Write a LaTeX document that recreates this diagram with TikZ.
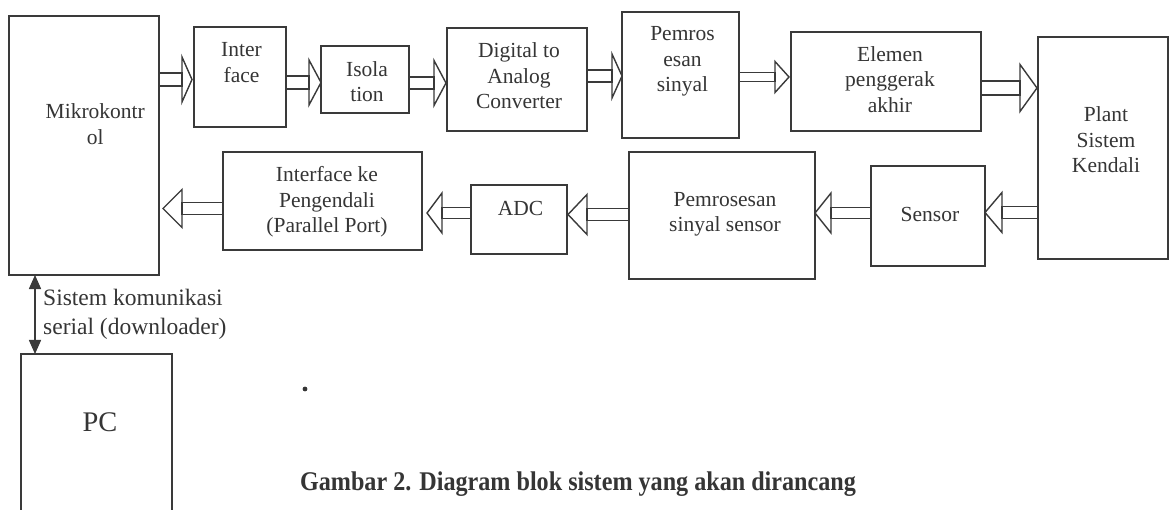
\documentclass[tikz,border=0pt]{standalone}
\usepackage{fontspec}
\setmainfont{Liberation Serif}
\usetikzlibrary{calc,arrows.meta}

\definecolor{ink}{HTML}{3A3A3A}
\definecolor{txtc}{HTML}{353535}
\newcommand\boxfont{\fontsize{21.5bp}{25.5bp}\selectfont}

% hollow block arrow pointing right: source, target, y, shaft half, head half, head length, gap before target
\newcommand\rflow[7]{%
  \path (#1.east |- 0,#3) coordinate (fs) (#2.west |- 0,#3) coordinate (ft0);
  \coordinate (ft) at ($(ft0)+(-#7,0)$);
  \coordinate (fb) at ($(ft)+(-#6,0)$);
  \draw[flow] ($(fs)+(0,-#4)$) rectangle ($(fb)+(0,#4)$);
  \draw[flow] ($(fb)+(0,-#5)$) -- (ft) -- ($(fb)+(0,#5)$) -- cycle;
}
% hollow block arrow pointing left
\newcommand\lflow[7]{%
  \path (#1.west |- 0,#3) coordinate (fs) (#2.east |- 0,#3) coordinate (ft0);
  \coordinate (ft) at ($(ft0)+(#7,0)$);
  \coordinate (fb) at ($(ft)+(#6,0)$);
  \draw[flow] ($(fs)+(0,-#4)$) rectangle ($(fb)+(0,#4)$);
  \draw[flow] ($(fb)+(0,-#5)$) -- (ft) -- ($(fb)+(0,#5)$) -- cycle;
}

\begin{document}
\begin{tikzpicture}[x=1bp,y=-1bp,
  box/.style={draw=ink, line width=1.4bp, inner sep=0, outer sep=0, anchor=north west},
  txt/.style={text=txtc, inner sep=0, align=center, anchor=north, font=\boxfont},
  flow/.style={draw=ink, line width=1.4bp, line join=miter}]

\useasboundingbox[fill=white] (0,0) rectangle (1170,510);
\clip (0,0) rectangle (1170,510);

% blocks
\node[box, minimum width=150bp, minimum height=259bp] (mk) at (9,16) {};
\node[box, minimum width=92bp, minimum height=100bp] (iface) at (194,27) {};
\node[box, minimum width=88bp, minimum height=67bp] (iso) at (321,46) {};
\node[box, minimum width=140bp, minimum height=103bp] (dac) at (447,28) {};
\node[box, minimum width=117bp, minimum height=126bp] (pem) at (622,12) {};
\node[box, minimum width=190bp, minimum height=99bp] (ele) at (791,32) {};
\node[box, minimum width=130bp, minimum height=222bp] (plant) at (1038,37) {};
\node[box, minimum width=114bp, minimum height=100bp] (sens) at (871,166) {};
\node[box, minimum width=186bp, minimum height=127bp] (pss) at (629,152) {};
\node[box, minimum width=96bp, minimum height=69bp] (adc) at (471,185) {};
\node[box, minimum width=199bp, minimum height=98bp] (ikp) at (223,152) {};
\node[box, minimum width=151bp, minimum height=180bp] (pc) at (21,354) {};

% block captions
\node[txt] (mkT) at (95.3,100.5) {\strut Mikrokontr\\ol};
\node[txt] (ifaceT) at (241.5,38.8) {\strut Inter\\face};
\node[txt] (isoT) at (367,58.2) {\strut Isola\\tion};
\node[txt] (dacT) at (519,39.5) {\strut Digital to\\Analog\\Converter};
\node[txt] (pemT) at (682.5,22.9) {\strut Pemros\\esan\\sinyal};
\node[txt] (eleT) at (890,43.2) {\strut Elemen\\penggerak\\akhir};
\node[txt] (plantT) at (1106,103.9) {\strut Plant\\Sistem\\Kendali};
\node[txt] (sensT) at (930,203.9) {\strut Sensor};
\node[txt] (pssT) at (725,188.2) {\strut Pemrosesan\\sinyal sensor};
\node[txt] (adcT) at (520.5,197.9) {\strut ADC};
\node[txt] (ikpT) at (327,163.9) {\strut Interface ke\\Pengendali\\(Parallel Port)};
\node[anchor=base, inner sep=0, text=txtc, font=\fontsize{28.4bp}{34bp}\selectfont] (pcT) at (100,431.7) {PC};

% forward path
\rflow{mk}{iface}{79.5}{6.5}{22.5}{10}{2}
\rflow{iface}{iso}{82.5}{6.5}{22.5}{12}{0}
\rflow{iso}{dac}{83}{6}{22.5}{12}{1}
\rflow{dac}{pem}{76}{6}{22}{10}{0}
\rflow{pem}{ele}{77}{4.5}{15.5}{14}{2}
\rflow{ele}{plant}{88}{7}{23.5}{17}{1}

% feedback path
\lflow{plant}{sens}{212.5}{6}{20}{17}{0}
\lflow{sens}{pss}{213}{5.5}{20}{16}{0}
\lflow{pss}{adc}{214.5}{6}{20}{19}{1}
\lflow{adc}{ikp}{213}{5.5}{20}{15}{5}
\lflow{ikp}{mk}{208.5}{6}{19}{19}{4}

% serial link to the PC
\draw[ink, line width=1.5bp, {Triangle[length=14bp,width=12bp]}-{Triangle[length=14bp,width=12bp]}]
  (mk.south -| 35,0) -- (pc.north -| 35,0);
\node[anchor=north west, inner sep=0, align=left, text=txtc,
      font=\fontsize{23.5bp}{29bp}\selectfont] (serial) at (43,284.7)
  {\strut Sistem komunikasi\\serial (downloader)};

\fill[txtc] (305,389) circle (2.4bp);

\node[anchor=base, inner sep=0, text=txtc, font=\fontsize{27bp}{32bp}\selectfont\bfseries] (cap) at (578,490)
  {\scalebox{0.894}[1]{Gambar 2. Diagram blok sistem yang akan dirancang}};
\end{tikzpicture}
\end{document}
